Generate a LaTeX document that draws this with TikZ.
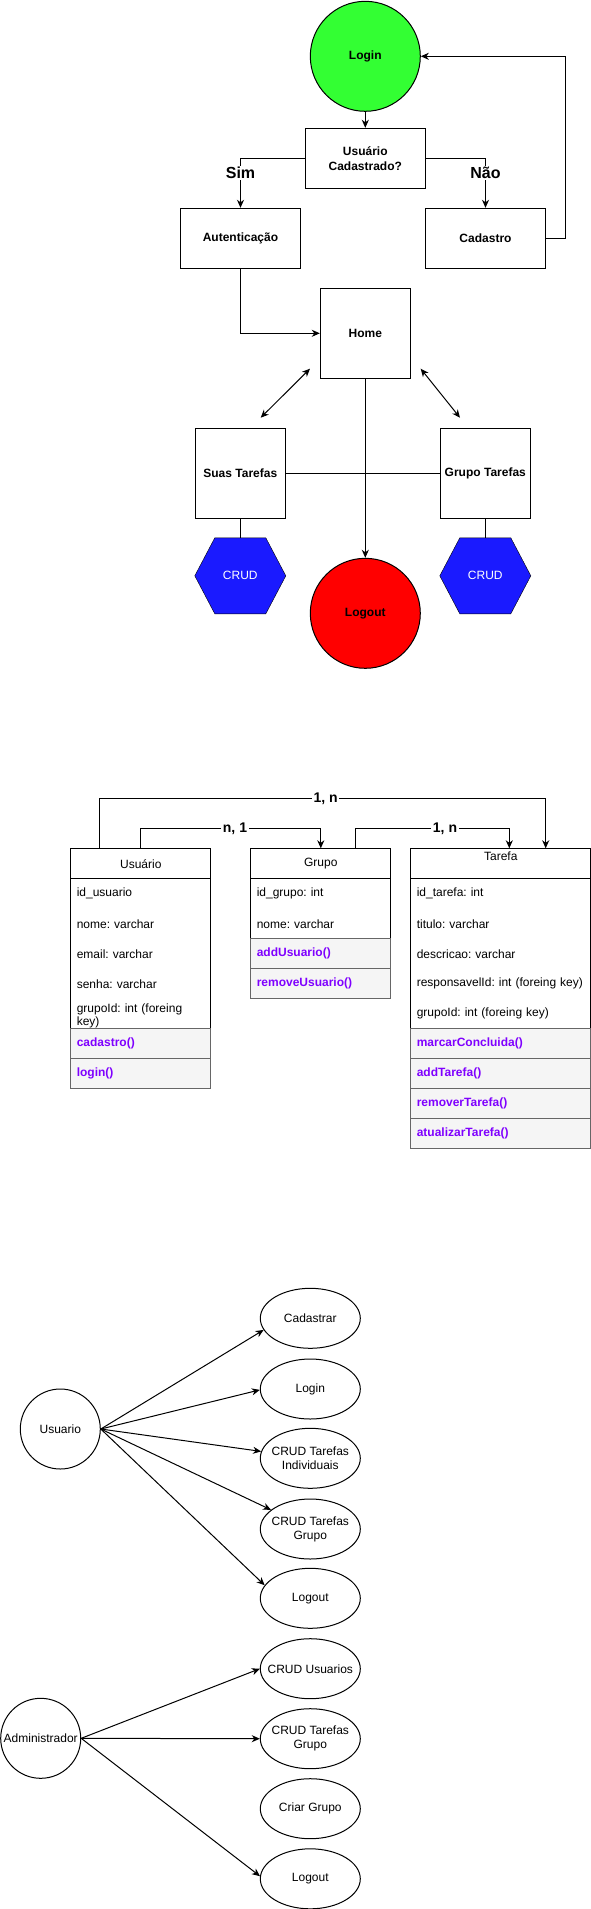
\documentclass[tikz,border=0pt]{standalone}
\usepackage{fontspec}
\setmainfont{Liberation Sans}
\frenchspacing
\usetikzlibrary{arrows.meta,shapes.geometric,calc,backgrounds}
\definecolor{lgreen}{HTML}{33FF33}
\definecolor{lred}{HTML}{FF0000}
\definecolor{crudblue}{HTML}{1A1AFF}
\definecolor{mpurple}{HTML}{7F00FF}
\definecolor{mfill}{HTML}{F5F5F5}
\definecolor{mline}{HTML}{666666}
\begin{document}
\begin{tikzpicture}[x=1pt,y=-1pt,line width=1pt,
  >={Stealth[length=8pt,width=7pt,inset=2.5pt]},
  fc/.style={draw, rectangle, minimum width=120, minimum height=60, inner sep=1pt, align=center, font=\bfseries\fontsize{12}{15}\selectfont},
  sq/.style={fc, minimum width=90, minimum height=90},
  circ/.style={draw, circle, minimum size=110, inner sep=0pt, font=\bfseries\fontsize{12}{15}\selectfont},
  hexa/.style={minimum width=90, minimum height=75, inner sep=0pt, text=white, font=\fontsize{12}{15}\selectfont},
  hexpath/.style={draw, fill=crudblue},
  big/.style={fill=white, inner xsep=1pt, inner ysep=1pt, font=\bfseries\fontsize{16}{18}\selectfont},
  hdr/.style={draw, rectangle, minimum width=#1, minimum height=30, inner sep=0pt, anchor=north west, font=\fontsize{12}{14}\selectfont},
  cont/.style={draw, rectangle, minimum width=#1, minimum height=180, inner sep=0pt, anchor=north west},
  row/.style={rectangle, minimum height=30, inner xsep=6pt, inner ysep=0pt, anchor=north west, align=left, text width=#1, font=\fontsize{12}{13}\selectfont},
  meth/.style={draw=mline, fill=mfill, rectangle, minimum height=30, inner xsep=6pt, inner ysep=0pt, anchor=north west, align=left, text width=#1, text=mpurple, font=\bfseries\fontsize{12}{14}\selectfont},
  lbl/.style={fill=white, inner xsep=1.5pt, inner ysep=1pt, font=\bfseries\fontsize{14}{16}\selectfont},
  actor/.style={draw, circle, minimum size=80, inner sep=0pt, font=\fontsize{12}{14}\selectfont},
  ucase/.style={draw, ellipse, minimum width=100, minimum height=60, inner sep=-12pt, align=center, font=\fontsize{12}{14}\selectfont}
]
\useasboundingbox (0,0) rectangle (591,1909);

% ---------------- Flowchart ----------------
\node[circ, fill=lgreen] (login) at (365.3,56.3) {Login};
\node[fc] (uc) at (365.3,158.3) {Usuário\\Cadastrado?};
\node[fc] (aut) at (240.5,238.3) {Autenticação};
\node[fc] (cad) at (485.5,238.3) {Cadastro};
\node[sq] (home) at (365.3,333.3) {Home};
\node[sq] (suas) at (240.3,473.3) {Suas Tarefas};
\node[sq] (grpt) at (485.3,473.3) {Grupo Tarefas};
\node[circ, fill=lred] (logout) at (365.3,613.3) {Logout};
\node[hexa] (h1) at (240.3,575.8) {CRUD};
\node[hexa] (h2) at (485.3,575.8) {CRUD};
\begin{scope}[on background layer]
\path[hexpath] ([xshift=20pt]h1.north west) -- ([xshift=-20pt]h1.north east) -- (h1.east) -- ([xshift=-20pt]h1.south east) -- ([xshift=20pt]h1.south west) -- (h1.west) -- cycle;
\path[hexpath] ([xshift=20pt]h2.north west) -- ([xshift=-20pt]h2.north east) -- (h2.east) -- ([xshift=-20pt]h2.south east) -- ([xshift=20pt]h2.south west) -- (h2.west) -- cycle;
\end{scope}

\coordinate (d1a) at (260.7,417.7);
\coordinate (d1b) at (310,368.7);
\coordinate (d2a) at (420.7,368.7);
\coordinate (d2b) at (460,417.7);

\draw[->] (login) -- (uc);
\draw[->] (uc.west) -| (aut.north);
\draw[->] (uc.east) -| (cad.north);
\draw[->] (cad.east) -- ++(19.6,0) |- (login.east);
\draw[->] (aut.south) |- (home.west);
\draw[<->] (d1a) -- (d1b);
\draw[<->] (d2a) -- (d2b);
\draw (suas.east) -- (grpt.west);
\draw[->] (home.south) -- (logout.north);
\draw (suas.south) -- (h1.north);
\draw (grpt.south) -- (h2.north);
\node[big] (sim) at (240.5,173) {Sim};
\node[big] (nao) at (485.5,173) {Não};

% ---------------- Class diagram ----------------
% Usuario
\node[cont=140] (usrC) at (70.3,848.3) {};
\node[hdr=140] (usrH) at (70.3,848.3) {Usuário};
\node[row=128pt] (u1) at (70.3,878.3) {id\_usuario};
\node[row=128pt] (u2) at (70.3,908.3) {nome: varchar};
\node[row=128pt] (u3) at (70.3,938.3) {email: varchar};
\node[row=128pt] (u4) at (70.3,968.3) {senha: varchar};
\node[row=128pt] (u5) at (70.3,1000.8) {grupoId: int (foreing\\key)};
\node[meth=128pt] (um1) at (70.3,1028.3) {cadastro()};
\node[meth=128pt] (um2) at (70.3,1058.3) {login()};

% Grupo
\node[draw, rectangle, minimum width=140, minimum height=90, inner sep=0pt, anchor=north west] (grpC) at (250.3,848.3) {};
\node[hdr=140] (grpH) at (250.3,848.3) {Grupo};
\node[row=128pt] (g1) at (250.3,878.3) {id\_grupo: int};
\node[row=128pt] (g2) at (250.3,908.3) {nome: varchar};
\node[meth=128pt] (gm1) at (250.3,938.3) {addUsuario()};
\node[meth=128pt] (gm2) at (250.3,968.3) {removeUsuario()};

% Tarefa
\node[cont=180] (tarC) at (410.3,848.3) {};
\node[hdr=180] (tarH) at (410.3,848.3) {};
\node[font=\fontsize{12}{14}\selectfont, inner sep=0pt] (tarT) at ($(tarH.north)+(0,7.7)$) {Tarefa};
\node[row=178pt] (t1) at (410.3,878.3) {id\_tarefa: int};
\node[row=178pt] (t2) at (410.3,908.3) {titulo: varchar};
\node[row=178pt] (t3) at (410.3,938.3) {descricao: varchar};
\node[row=178pt] (t4) at (410.3,968.3) {responsavelId: int (foreing key)};
\node[row=178pt] (t5) at (410.3,998.3) {grupoId: int (foreing key)};
\node[meth=168pt] (tm1) at (410.3,1028.3) {marcarConcluida()};
\node[meth=168pt] (tm2) at (410.3,1058.3) {addTarefa()};
\node[meth=168pt] (tm3) at (410.3,1088.3) {removerTarefa()};
\node[meth=168pt] (tm4) at (410.3,1118.3) {atualizarTarefa()};

% associations
\draw[->] ([xshift=29pt]usrH.north west) -- ++(0,-50) -| ([xshift=135.4pt]tarH.north west);
\draw[->] (usrH.north) -- ++(0,-20) -| (grpH.north);
\draw[->] ([xshift=105pt]grpH.north west) -- ++(0,-20) -| ([xshift=99pt]tarH.north west);
\node[lbl] (l1) at (325.7,798.3) {1, n};
\node[lbl] (l2) at (235,828.3) {n, 1};
\node[lbl] (l3) at (445,828.3) {1, n};

% ---------------- Use cases ----------------
\node[actor] (usu) at (60.3,1429) {Usuario};
\node[ucase] (ucad) at (310.3,1318.3) {Cadastrar};
\node[ucase] (ulog) at (310.3,1389) {Login};
\node[ucase] (uind) at (310.3,1458.3) {CRUD Tarefas\\Individuais};
\node[ucase] (ugrp) at (310.3,1529) {CRUD Tarefas\\Grupo};
\node[ucase] (uout) at (310.3,1598.3) {Logout};

\node[actor] (adm) at (40.7,1738.3) {Administrador};
\node[ucase] (acrud) at (310.3,1668.7) {CRUD Usuarios};
\node[ucase] (agrp) at (310.3,1738.7) {CRUD Tarefas\\Grupo};
\node[ucase] (acri) at (310.3,1808.7) {Criar Grupo};
\node[ucase] (aout) at (310.3,1878.8) {Logout};

\draw[->] (usu.east) -- (ucad.194.3);
\draw[->] (usu.east) -- (ulog.181);
\draw[->] (usu.east) -- (uind.172.4);
\draw[->] (usu.east) -- (ugrp.154.8);
\draw[->] (usu.east) -- (uout.164.2);
\draw[->] (adm.east) -- (acrud.180.5);
\draw[->] (adm.east) -- (agrp.180);
\draw[->] (adm.east) -- (aout.177.7);
\end{tikzpicture}
\end{document}
